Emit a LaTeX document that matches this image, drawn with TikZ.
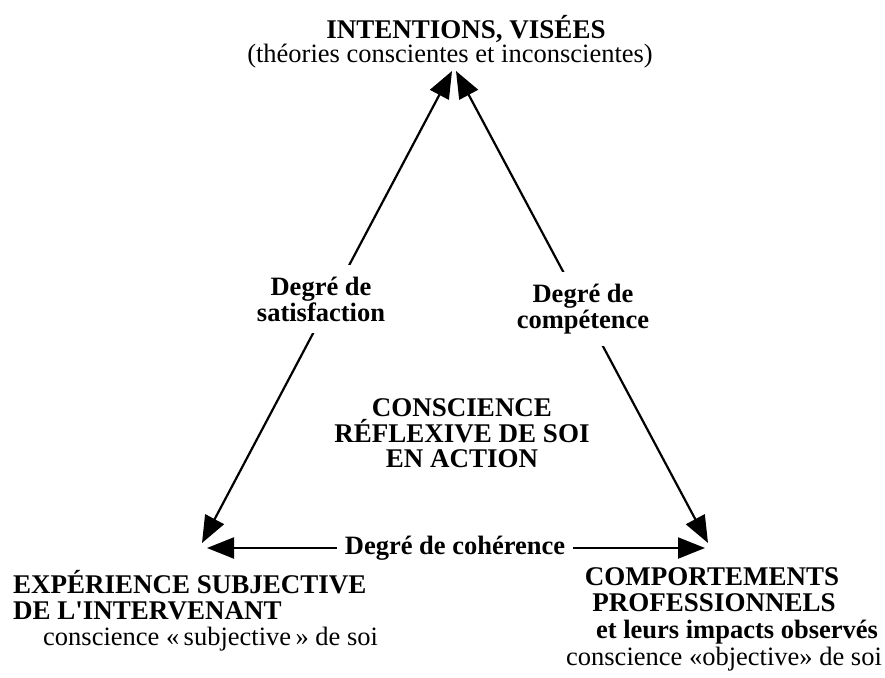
\documentclass[tikz,border=0pt]{standalone}
\usepackage{fontspec}
\setmainfont{Liberation Serif}
\usetikzlibrary{arrows.meta}
\tikzset{
  bf/.style={font=\bfseries\fontsize{27}{25}\selectfont, inner sep=0pt},
  bflow/.style={font=\bfseries\fontsize{26.5}{25}\selectfont, inner sep=0pt},
  rm/.style={font=\fontsize{26.5}{25}\selectfont, inner sep=0pt},
  lab/.style={font=\bfseries\fontsize{26.5}{26}\selectfont, align=center, fill=white, inner xsep=3pt, inner ysep=12pt},
  dbl/.style={line width=2.2pt, {Triangle[length=27pt,width=21pt]}-{Triangle[length=27pt,width=21pt]}},
  gap/.style={white, line width=1.6pt}
}
\begin{document}
\begin{tikzpicture}[x=1pt,y=-1pt]
\useasboundingbox (0,0) rectangle (885,677);
% top
\node[bf, anchor=base] (t1) at (466,38) {INTENTIONS, VISÉES};
\node[rm, anchor=base] (t2) at (450,63) {(théories conscientes et inconscientes)};
% tips
\coordinate (tipL) at (452,71);
\coordinate (tipR) at (456,71);
\coordinate (botL) at (202,543);
\coordinate (botR) at (708,543);
\coordinate (hL) at (207,548);
\coordinate (hR) at (705,548);
\coordinate (gapT) at (454,64);
\coordinate (gapB) at (454,102);
% connectors
\draw[dbl] (tipL) -- (botL);
\draw[dbl] (tipR) -- (botR);
\draw[dbl] (hL) -- (hR);
\draw[gap] (gapT) -- (gapB);
% labels
\node[lab] (sat) at (321,299) {Degré de\\satisfaction};
\node[lab] (comp) at (583,309) {Degré de\\compétence};
\node[lab, inner ysep=2pt, inner xsep=8pt] (coh) at (455,548) {Degré de cohérence};
% centre
\node[bf, anchor=base] (c1) at (462,416) {CONSCIENCE};
\node[bf, anchor=base] (c2) at (462,442) {RÉFLEXIVE DE SOI};
\node[bf, anchor=base] (c3) at (462,467) {EN ACTION};
% bottom left
\node[bf, anchor=base west] (l1) at (13,593) {EXPÉRIENCE SUBJECTIVE};
\node[bf, anchor=base west] (l2) at (13,619) {DE L\textquotesingle INTERVENANT};
\node[rm, anchor=base west] (l3) at (43,645) {conscience «\,subjective\,» de soi};
% bottom right
\node[bf, anchor=base] (r1) at (712,585) {COMPORTEMENTS};
\node[bf, anchor=base] (r2) at (714,611) {PROFESSIONNELS};
\node[bflow, anchor=base] (r3) at (737,638) {et leurs impacts observés};
\node[rm, anchor=base] (r4) at (724,665) {conscience «objective» de soi};
\end{tikzpicture}
\end{document}
